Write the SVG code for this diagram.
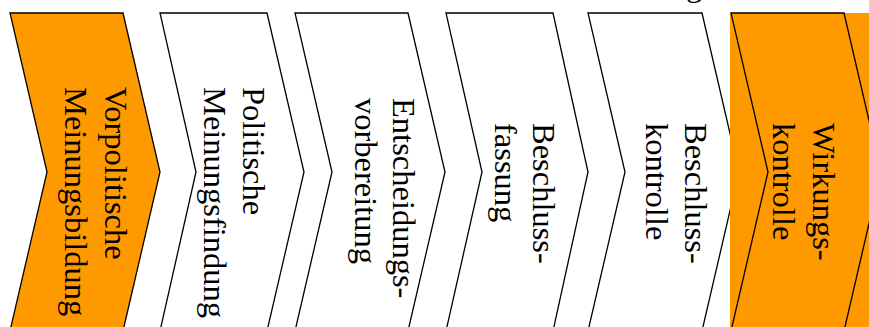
<svg xmlns="http://www.w3.org/2000/svg" width="869" height="327" viewBox="0 0 869 327">
  <style>
    .step { stroke: #000; stroke-width: 1.3; stroke-linejoin: miter; }
    .plain { fill: #ffffff; }
    .accent { fill: #ff9900; }
    .label { font-family: "Liberation Serif", "Times New Roman", serif; font-size: 32.5px; fill: #000; }
  </style>
  <rect width="869" height="327" fill="#ffffff"/>

  <!-- tail of the heading line above the process chain -->
  <text class="label" x="686" y="-4">g</text>

  <g id="step-1">
    <path class="step accent" d="M10,13 L123,13 L160,172 L123,331 L10,331 L47,172 Z"/>
    <text class="label" transform="translate(105,87) rotate(90)">Vorpolitische</text>
    <text class="label" transform="translate(65,87) rotate(90)">Meinungsbildung</text>
  </g>

  <g id="step-2">
    <path class="step plain" d="M160,13 L267,13 L304,172 L267,331 L160,331 L196,172 Z"/>
    <text class="label" transform="translate(243,87) rotate(90)">Politische</text>
    <text class="label" transform="translate(204,87) rotate(90)">Meinungsfindung</text>
  </g>

  <g id="step-3">
    <path class="step plain" d="M295,13 L408,13 L445,172 L408,331 L295,331 L332,172 Z"/>
    <text class="label" transform="translate(393,98) rotate(90)">Entscheidungs-</text>
    <text class="label" transform="translate(355,98) rotate(90)">vorbereitung</text>
  </g>

  <g id="step-4">
    <path class="step plain" d="M446,13 L553,13 L588,172 L553,331 L446,331 L482,172 Z"/>
    <text class="label" transform="translate(533,123) rotate(90)">Beschluss-</text>
    <text class="label" transform="translate(495,123) rotate(90)">fassung</text>
  </g>

  <g id="step-5">
    <path class="step plain" d="M588,13 L702,13 L739,172 L702,331 L588,331 L625,172 Z"/>
    <text class="label" transform="translate(685,123) rotate(90)">Beschluss-</text>
    <text class="label" transform="translate(646,123) rotate(90)">kontrolle</text>
  </g>

  <!-- highlight band behind the final step -->
  <rect id="highlight" class="accent" x="730" y="13" width="139" height="320"/>

  <g id="step-6">
    <path class="step accent" d="M731,13 L844,13 L881,172 L844,331 L731,331 L768,172 Z"/>
    <text class="label" transform="translate(813,123) rotate(90)">Wirkungs-</text>
    <text class="label" transform="translate(773,123) rotate(90)">kontrolle</text>
  </g>

  <g id="connectors"></g>
</svg>
